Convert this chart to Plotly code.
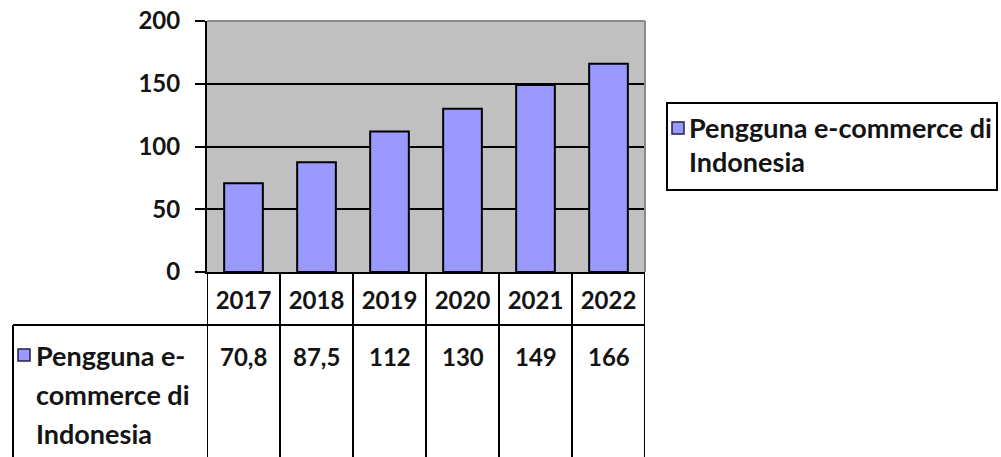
import plotly.graph_objects as go

# ---- data ----
years = ["2017", "2018", "2019", "2020", "2021", "2022"]
users = [70.8, 87.5, 112, 130, 149, 166]
series_label_lines = ["Pengguna e-", "commerce di", "Indonesia"]
legend_lines = ["Pengguna e-commerce di", "Indonesia"]
y_ticks = [0, 50, 100, 150, 200]

# ---- layout helpers (pixel -> paper) ----
W, H = 1001, 457
def pxx(x):
    return x / W
def pxy(y):
    return 1 - y / H

FONT = dict(family="Lato", size=24, color="#141414", weight="bold")
TFONT = dict(family="Lato", size=27, color="#141414", weight="bold")
BAR = "#9999ff"

fig = go.Figure(
    go.Bar(
        x=years, y=users, name=" ".join(legend_lines),
        marker=dict(color=BAR, line=dict(color="black", width=2)),
        width=0.53, showlegend=False, hoverinfo="x+y",
    )
)

fig.update_layout(
    width=W, height=H, margin=dict(l=0, r=0, t=0, b=0, autoexpand=False),
    paper_bgcolor="white", plot_bgcolor="#c0c0c0",
    showlegend=False,
    xaxis=dict(type="category", range=[-0.5, len(years) - 0.5],
               domain=[pxx(207), pxx(645)], showline=True, linecolor="black", linewidth=2,
               ticks="", tickfont=FONT, ticklabelstandoff=6, showgrid=False, fixedrange=True,
               automargin=False),
    yaxis=dict(domain=[pxy(272), pxy(21)], range=[0, 200], tickvals=y_ticks,
               showline=True, linecolor="black", linewidth=2,
               ticks="outside", ticklen=10, tickwidth=2, tickcolor="black",
               showgrid=True, gridcolor="black", gridwidth=2, zeroline=False,
               tickfont=FONT, ticklabelstandoff=10, fixedrange=True, automargin=False),
)

shapes = []
# plot-area border (top/right), gray
shapes.append(dict(type="line", xref="x domain", yref="y domain", x0=0, x1=1, y0=1, y1=1,
                   line=dict(color="#8a8a8a", width=2), layer="above"))
shapes.append(dict(type="line", xref="x domain", yref="y domain", x0=1, x1=1, y0=0, y1=1,
                   line=dict(color="#8a8a8a", width=2), layer="above"))

# data table: vertical lines at category boundaries
for i in range(len(years) + 1):
    shapes.append(dict(type="line", xref="x", yref="paper", x0=i - 0.5, x1=i - 0.5,
                       y0=pxy(272), y1=0, line=dict(color="black", width=2)))
# header/value separator and row label box
shapes.append(dict(type="line", xref="paper", yref="paper", x0=pxx(13), x1=pxx(645),
                   y0=pxy(325), y1=pxy(325), line=dict(color="black", width=2)))
shapes.append(dict(type="line", xref="paper", yref="paper", x0=pxx(13), x1=pxx(13),
                   y0=pxy(325), y1=0, line=dict(color="black", width=2)))
# row legend key
shapes.append(dict(type="rect", xref="paper", yref="paper", x0=pxx(18), x1=pxx(30),
                   y0=pxy(361), y1=pxy(349), fillcolor=BAR, line=dict(color="#222244", width=1.5)))
# right legend box + key
shapes.append(dict(type="rect", xref="paper", yref="paper", x0=pxx(667), x1=pxx(997),
                   y0=pxy(190), y1=pxy(103), fillcolor="white", line=dict(color="black", width=2)))
shapes.append(dict(type="rect", xref="paper", yref="paper", x0=pxx(672), x1=pxx(684),
                   y0=pxy(134), y1=pxy(122), fillcolor=BAR, line=dict(color="#222244", width=1.5)))

annotations = []
# value row (category index positions on the x axis)
for i, v in enumerate(users):
    txt = (f"{v:.1f}" if v != int(v) else f"{int(v)}").replace(".", ",")
    annotations.append(dict(xref="x", yref="paper", x=i, y=pxy(356), text=txt,
                            showarrow=False, font=FONT, xanchor="center", yanchor="middle"))
# row label lines (hanging indent after the key)
row_y = [355, 394, 433]
for t, yy in zip(series_label_lines, row_y):
    annotations.append(dict(xref="paper", yref="paper", x=pxx(34), y=pxy(yy), text=t,
                            showarrow=False, font=TFONT, xanchor="left", yanchor="middle"))
# legend text
leg_y = [127, 161]
for t, yy in zip(legend_lines, leg_y):
    annotations.append(dict(xref="paper", yref="paper", x=pxx(687), y=pxy(yy), text=t,
                            showarrow=False, font=TFONT, xanchor="left", yanchor="middle"))

fig.update_layout(shapes=shapes, annotations=annotations)
fig.write_html("out.html")
